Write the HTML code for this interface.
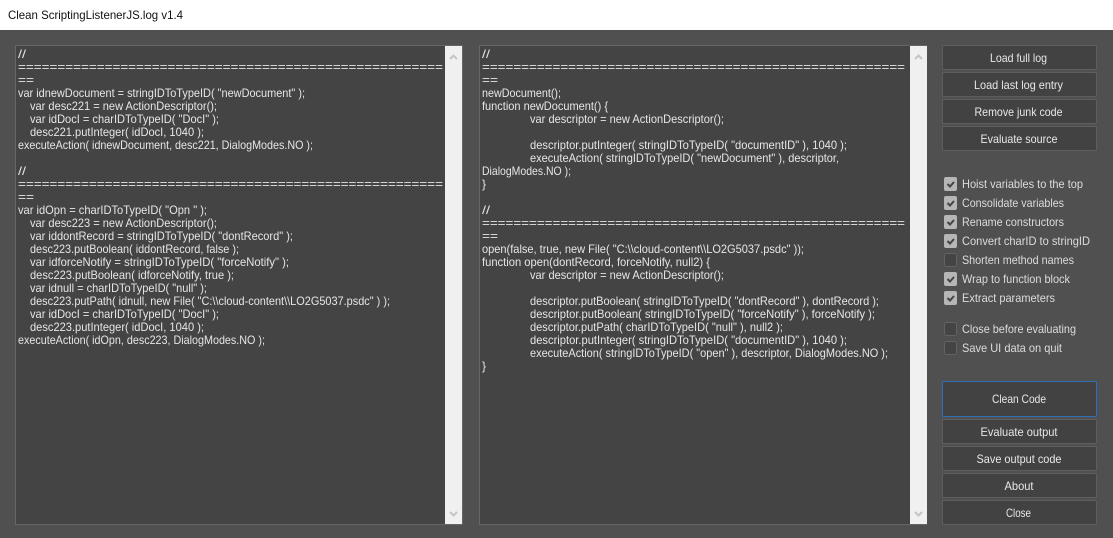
<!DOCTYPE html>
<html><head><meta charset="utf-8"><title>Clean ScriptingListenerJS.log v1.4</title>
<style>
html,body{margin:0;padding:0;width:1113px;height:538px;overflow:hidden;background:#505050}
svg{display:block}
text{font-family:"Liberation Sans",sans-serif;font-size:12px;white-space:pre}
.c text{fill:#e6e6e6}
.b text{fill:#e8e8e8;text-anchor:middle}
.l text{fill:#dcdcdc}
.b rect{fill:#424242;stroke:#5e5e5e}
.k rect{fill:#b6b6b6}
.k path{fill:none;stroke:#444;stroke-width:2}
.u rect{fill:#444;stroke:#626262}
.s path{fill:none;stroke:#c4c4c4;stroke-width:2}
</style></head><body>
<svg width="1113" height="538" viewBox="0 0 1113 538" xmlns="http://www.w3.org/2000/svg">
<rect width="1113" height="538" fill="#505050"/>
<rect width="1113" height="30" fill="#fff"/>
<text x="8" y="19" fill="#111" textLength="175" lengthAdjust="spacingAndGlyphs">Clean ScriptingListenerJS.log v1.4</text>

<rect x="15.5" y="45.5" width="447" height="479" fill="#444" stroke="#666"/>
<rect x="445" y="46" width="17" height="478" fill="#f0f0f0"/>
<rect x="479.5" y="45.5" width="447" height="479" fill="#444" stroke="#666"/>
<rect x="910" y="46" width="17" height="478" fill="#f0f0f0"/>
<g class="s">
<path d="M450 59l3.500-3.500 3.500 3.500M450 512l3.500 3.500 3.500-3.500"/>
<path d="M915 59l3.500-3.500 3.500 3.500M915 512l3.500 3.500 3.500-3.500"/>
</g>

<g class="c">
<text x="18" y="58" textLength="8" lengthAdjust="spacingAndGlyphs">//</text>
<text x="18" y="71" textLength="425" lengthAdjust="spacingAndGlyphs">======================================================</text>
<text x="18" y="84" textLength="16" lengthAdjust="spacingAndGlyphs">==</text>
<text x="18" y="97" textLength="287" lengthAdjust="spacingAndGlyphs">var idnewDocument = stringIDToTypeID( "newDocument" );</text>
<text x="30" y="110" textLength="187" lengthAdjust="spacingAndGlyphs">var desc221 = new ActionDescriptor();</text>
<text x="30" y="123" textLength="189" lengthAdjust="spacingAndGlyphs">var idDocI = charIDToTypeID( "DocI" );</text>
<text x="30" y="136" textLength="174" lengthAdjust="spacingAndGlyphs">desc221.putInteger( idDocI, 1040 );</text>
<text x="18" y="149" textLength="295" lengthAdjust="spacingAndGlyphs">executeAction( idnewDocument, desc221, DialogModes.NO );</text>
<text x="18" y="175" textLength="8" lengthAdjust="spacingAndGlyphs">//</text>
<text x="18" y="188" textLength="425" lengthAdjust="spacingAndGlyphs">======================================================</text>
<text x="18" y="201" textLength="16" lengthAdjust="spacingAndGlyphs">==</text>
<text x="18" y="214" textLength="189" lengthAdjust="spacingAndGlyphs">var idOpn = charIDToTypeID( "Opn " );</text>
<text x="30" y="227" textLength="187" lengthAdjust="spacingAndGlyphs">var desc223 = new ActionDescriptor();</text>
<text x="30" y="240" textLength="263" lengthAdjust="spacingAndGlyphs">var iddontRecord = stringIDToTypeID( "dontRecord" );</text>
<text x="30" y="253" textLength="209" lengthAdjust="spacingAndGlyphs">desc223.putBoolean( iddontRecord, false );</text>
<text x="30" y="266" textLength="259" lengthAdjust="spacingAndGlyphs">var idforceNotify = stringIDToTypeID( "forceNotify" );</text>
<text x="30" y="279" textLength="204" lengthAdjust="spacingAndGlyphs">desc223.putBoolean( idforceNotify, true );</text>
<text x="30" y="292" textLength="177" lengthAdjust="spacingAndGlyphs">var idnull = charIDToTypeID( "null" );</text>
<text x="30" y="305" textLength="360" lengthAdjust="spacingAndGlyphs">desc223.putPath( idnull, new File( "C:\\cloud-content\\LO2G5037.psdc" ) );</text>
<text x="30" y="318" textLength="189" lengthAdjust="spacingAndGlyphs">var idDocI = charIDToTypeID( "DocI" );</text>
<text x="30" y="331" textLength="174" lengthAdjust="spacingAndGlyphs">desc223.putInteger( idDocI, 1040 );</text>
<text x="18" y="344" textLength="247" lengthAdjust="spacingAndGlyphs">executeAction( idOpn, desc223, DialogModes.NO );</text>

<text x="482" y="58" textLength="8" lengthAdjust="spacingAndGlyphs">//</text>
<text x="482" y="71" textLength="423" lengthAdjust="spacingAndGlyphs">======================================================</text>
<text x="482" y="84" textLength="16" lengthAdjust="spacingAndGlyphs">==</text>
<text x="482" y="97" textLength="79" lengthAdjust="spacingAndGlyphs">newDocument();</text>
<text x="482" y="110" textLength="126" lengthAdjust="spacingAndGlyphs">function newDocument() {</text>
<text x="530" y="123" textLength="194" lengthAdjust="spacingAndGlyphs">var descriptor = new ActionDescriptor();</text>
<text x="530" y="149" textLength="317" lengthAdjust="spacingAndGlyphs">descriptor.putInteger( stringIDToTypeID( "documentID" ), 1040 );</text>
<text x="530" y="162" textLength="309" lengthAdjust="spacingAndGlyphs">executeAction( stringIDToTypeID( "newDocument" ), descriptor,</text>
<text x="482" y="175" textLength="89" lengthAdjust="spacingAndGlyphs">DialogModes.NO );</text>
<text x="482" y="188">}</text>
<text x="482" y="214" textLength="8" lengthAdjust="spacingAndGlyphs">//</text>
<text x="482" y="227" textLength="423" lengthAdjust="spacingAndGlyphs">======================================================</text>
<text x="482" y="240" textLength="16" lengthAdjust="spacingAndGlyphs">==</text>
<text x="482" y="253" textLength="322" lengthAdjust="spacingAndGlyphs">open(false, true, new File( "C:\\cloud-content\\LO2G5037.psdc" ));</text>
<text x="482" y="266" textLength="228" lengthAdjust="spacingAndGlyphs">function open(dontRecord, forceNotify, null2) {</text>
<text x="530" y="279" textLength="194" lengthAdjust="spacingAndGlyphs">var descriptor = new ActionDescriptor();</text>
<text x="530" y="305" textLength="349" lengthAdjust="spacingAndGlyphs">descriptor.putBoolean( stringIDToTypeID( "dontRecord" ), dontRecord );</text>
<text x="530" y="318" textLength="345" lengthAdjust="spacingAndGlyphs">descriptor.putBoolean( stringIDToTypeID( "forceNotify" ), forceNotify );</text>
<text x="530" y="331" textLength="253" lengthAdjust="spacingAndGlyphs">descriptor.putPath( charIDToTypeID( "null" ), null2 );</text>
<text x="530" y="344" textLength="317" lengthAdjust="spacingAndGlyphs">descriptor.putInteger( stringIDToTypeID( "documentID" ), 1040 );</text>
<text x="530" y="357" textLength="358" lengthAdjust="spacingAndGlyphs">executeAction( stringIDToTypeID( "open" ), descriptor, DialogModes.NO );</text>
<text x="482" y="370">}</text>
</g>

<g class="b">
<rect x="942.500" y="45.500" width="154" height="24" rx="1"/><text x="1018.500" y="62" textLength="57" lengthAdjust="spacingAndGlyphs">Load full log</text>
<rect x="942.500" y="72.500" width="154" height="24" rx="1"/><text x="1018.500" y="89" textLength="89" lengthAdjust="spacingAndGlyphs">Load last log entry</text>
<rect x="942.500" y="99.500" width="154" height="24" rx="1"/><text x="1018.500" y="116" textLength="88" lengthAdjust="spacingAndGlyphs">Remove junk code</text>
<rect x="942.500" y="126.500" width="154" height="24" rx="1"/><text x="1019" y="143" textLength="77" lengthAdjust="spacingAndGlyphs">Evaluate source</text>
<rect x="942.500" y="381.500" width="154" height="35" rx="1" style="stroke:#2f6fb5"/><text x="1019" y="403" textLength="54" lengthAdjust="spacingAndGlyphs">Clean Code</text>
<rect x="942.500" y="419.500" width="154" height="24" rx="1"/><text x="1019" y="436" textLength="77" lengthAdjust="spacingAndGlyphs">Evaluate output</text>
<rect x="942.500" y="446.500" width="154" height="24" rx="1"/><text x="1019" y="463" textLength="85" lengthAdjust="spacingAndGlyphs">Save output code</text>
<rect x="942.500" y="473.500" width="154" height="24" rx="1"/><text x="1019" y="490" textLength="29" lengthAdjust="spacingAndGlyphs">About</text>
<rect x="942.500" y="500.500" width="154" height="24" rx="1"/><text x="1018.500" y="517" textLength="25" lengthAdjust="spacingAndGlyphs">Close</text>
</g>

<g class="k">
<rect x="944" y="177" width="13" height="14" rx="2"/><path d="M947.500 184l2.500 2.500 4-4.500"/>
<rect x="944" y="196" width="13" height="14" rx="2"/><path d="M947.500 203l2.500 2.500 4-4.500"/>
<rect x="944" y="215" width="13" height="14" rx="2"/><path d="M947.500 222l2.500 2.500 4-4.500"/>
<rect x="944" y="234" width="13" height="14" rx="2"/><path d="M947.500 241l2.500 2.500 4-4.500"/>
<rect x="944" y="272" width="13" height="14" rx="2"/><path d="M947.500 279l2.500 2.500 4-4.500"/>
<rect x="944" y="291" width="13" height="14" rx="2"/><path d="M947.500 298l2.500 2.500 4-4.500"/>
</g>
<g class="u">
<rect x="944.500" y="253.500" width="12" height="13" rx="2"/>
<rect x="944.500" y="322.500" width="12" height="13" rx="2"/>
<rect x="944.500" y="341.500" width="12" height="13" rx="2"/>
</g>
<g class="l">
<text x="962" y="188" textLength="121" lengthAdjust="spacingAndGlyphs">Hoist variables to the top</text>
<text x="962" y="207" textLength="102" lengthAdjust="spacingAndGlyphs">Consolidate variables</text>
<text x="962" y="226" textLength="102" lengthAdjust="spacingAndGlyphs">Rename constructors</text>
<text x="962" y="245" textLength="128" lengthAdjust="spacingAndGlyphs">Convert charID to stringID</text>
<text x="962" y="264" textLength="112" lengthAdjust="spacingAndGlyphs">Shorten method names</text>
<text x="962" y="283" textLength="108" lengthAdjust="spacingAndGlyphs">Wrap to function block</text>
<text x="962" y="302" textLength="93" lengthAdjust="spacingAndGlyphs">Extract parameters</text>
<text x="962" y="333" textLength="114" lengthAdjust="spacingAndGlyphs">Close before evaluating</text>
<text x="962" y="352" textLength="100" lengthAdjust="spacingAndGlyphs">Save UI data on quit</text>
</g>
</svg>
</body></html>
